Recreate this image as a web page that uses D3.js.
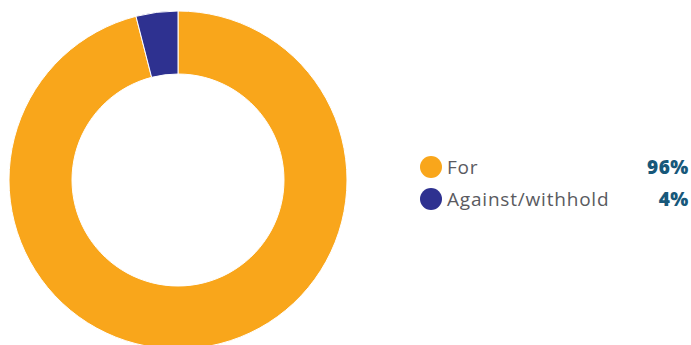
<!DOCTYPE html>
<html><head><meta charset="utf-8">
<script src="https://cdn.jsdelivr.net/npm/d3@7"></script>
<style>html,body{margin:0;padding:0;background:#fff;}svg{display:block;}</style>
</head><body>
<svg id="c" width="691" height="345"></svg>
<script>
const categories = ["For", "Against/withhold"];
const values = [96, 4];
const labels = ["96%", "4%"];
const colors = ["#F9A61B", "#2E3190"];

const svg = d3.select("#c");
const cx = 178, cy = 180, rOuter = 169, rInner = 106;
const pie = d3.pie().sort(null).value(d => d)(values);
const arc = d3.arc().innerRadius(rInner).outerRadius(rOuter);
const g = svg.append("g").attr("transform", `translate(${cx},${cy})`);
g.selectAll("path").data(pie).join("path")
  .attr("d", arc).attr("fill", (d,i) => colors[i])
  .attr("stroke", "#fff").attr("stroke-width", 1);

const y = d3.scalePoint().domain(categories).range([167, 199]);
const lg = svg.append("g");
const item = lg.selectAll("g").data(categories).join("g")
  .attr("transform", d => `translate(0,${y(d)})`);
item.append("circle").attr("cx", 431).attr("cy", 0).attr("r", 11)
  .attr("fill", (d,i) => colors[i]);
item.append("text").attr("x", 447).attr("y", 7)
  .attr("font-family", "'Open Sans', sans-serif").attr("font-size", 19)
  .attr("letter-spacing", 0.8)
  .attr("fill", "#5a5a60").text(d => d);
item.append("text").attr("x", 689).attr("y", 7).attr("text-anchor", "end")
  .attr("font-family", "'Open Sans', sans-serif").attr("font-size", 19)
  .attr("font-weight", 800).attr("letter-spacing", 0.6)
  .attr("fill", "#17587a").text((d,i) => labels[i]);
</script>
</body></html>
